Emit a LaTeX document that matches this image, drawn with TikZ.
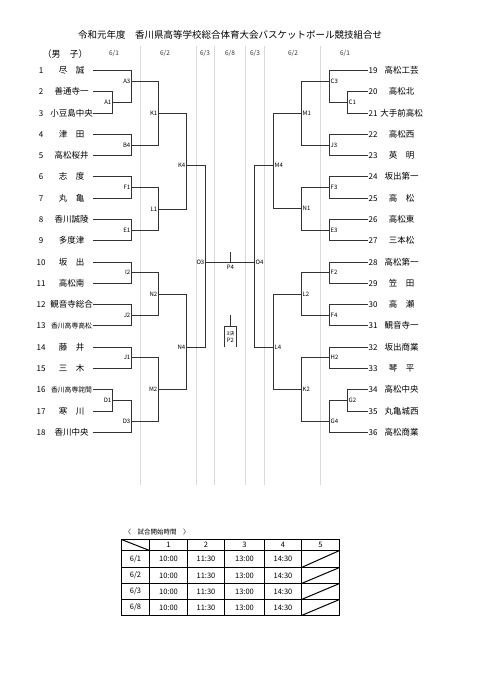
\documentclass[tikz,border=0pt]{standalone}
\usepackage{fontspec}
\setmainfont{Noto Sans CJK JP}
\newcommand{\smallname}[1]{{\fontsize{6.8}{7}\selectfont #1}}

\begin{document}
\begin{tikzpicture}[x=1pt, y=-1pt,
    bline/.style={line width=1.5pt, black!80},
    dayline/.style={line width=1.3pt, black!15},
    day/.style={font=\fontsize{6.5}{7}\selectfont, text=black!80},
    num/.style={font=\fontsize{8}{9}\selectfont},
    team/.style={font=\fontsize{8.5}{9}\selectfont},
    mL/.style={font=\fontsize{6}{6}\selectfont, inner sep=1pt, anchor=east},
    mR/.style={font=\fontsize{6}{6}\selectfont, inner sep=1pt, anchor=west},
    cell/.style={font=\fontsize{7.5}{8}\selectfont},
    grid/.style={line width=1pt}
  ]
  \useasboundingbox (0,0) rectangle (481,680);

  % Title and day columns
  \node[font=\fontsize{9.5}{10}\selectfont] (title) at (230,35) {令和元年度　香川県高等学校総合体育大会バスケットボール競技組合せ};
  \node[font=\fontsize{9}{10}\selectfont] (boys) at (65,54) {（男　子）};
  \foreach \x in {140.5,196.5,214.5,245.5,264.5,320.5}
    \draw[dayline] (\x,46) -- (\x,485);
  \foreach \d/\x [count=\k] in {1/114, 2/165, 3/205, 8/230, 3/255, 2/293, 1/345}
    \node[day] (day\k) at (\x,54) {6/\d};

  % Left teams 1-18
  \foreach \name [count=\i] in {尽　誠, 善通寺一, 小豆島中央, 津　田, 高松桜井, 志　度, 丸　亀, 香川誠陵, 多度津, 坂　出, 高松南, 観音寺総合, \smallname{香川高専高松}, 藤　井, 三　木, \smallname{香川高専詫間}, 寒　川, 香川中央}{
    \pgfmathsetmacro{\ty}{round(70+(\i-1)*21.29)+0.5}
    \node[num] (n\i) at (41,\ty) {\i};
    \node[team] (t\i) at (71.5,\ty) {\name};
    \coordinate (e\i) at (93,\ty);
  }

  % Right teams 19-36
  \foreach \name [count=\i from 19] in {高松工芸, 高松北, 大手前高松, 高松西, 英　明, 坂出第一, 高　松, 高松東, 三本松, 高松第一, 笠　田, 高　瀬, 観音寺一, 坂出商業, 琴　平, 高松中央, 丸亀城西, 高松商業}{
    \pgfmathsetmacro{\ty}{round(70+(\i-19)*21.29)+0.5}
    \node[num] (n\i) at (373,\ty) {\i};
    \node[team] (t\i) at (401.5,\ty) {\name};
    \coordinate (e\i) at (368,\ty);
  }

  % Left bracket
  \foreach \m/\x/\y in {A1/112.5/102.5, A3/131.5/81.5, B4/131.5/145.5, F1/131.5/187.5, E1/131.5/230.5, I2/131.5/272.5, J2/131.5/315.5, J1/131.5/357.5, D1/112.5/400.5, D3/131.5/421.5, K1/158.5/113.5, L1/158.5/209.5, N2/158.5/294.5, M2/158.5/389.5, K4/186.5/165.5, N4/186.5/347.5, O3/205.5/262.5}
    \node[mL] (\m) at (\x,\y) {\m};
  \foreach \a/\m in {e2/A1, e3/A1, e1/A3, A1.east/A3, e4/B4, e5/B4, e6/F1, e7/F1, e8/E1, e9/E1, e10/I2, e11/I2, e12/J2, e13/J2, e14/J1, e15/J1, e16/D1, e17/D1, D1.east/D3, e18/D3, A3.east/K1, B4.east/K1, F1.east/L1, E1.east/L1, I2.east/N2, J2.east/N2, J1.east/M2, D3.east/M2, K1.east/K4, L1.east/K4, N2.east/N4, M2.east/N4, K4.east/O3, N4.east/O3}
    \draw[bline] (\a) -| (\m.east);

  % Right bracket
  \foreach \m/\x/\y in {C1/347.5/102.5, C3/329.5/81.5, J3/329.5/145.5, F3/329.5/187.5, E3/329.5/230.5, F2/329.5/272.5, F4/329.5/315.5, H2/329.5/357.5, G2/347.5/400.5, G4/329.5/421.5, M1/301.5/113.5, N1/301.5/208.5, L2/301.5/294.5, K2/301.5/389.5, M4/273.5/165.5, L4/273.5/347.5, O4/254.5/262.5}
    \node[mR] (\m) at (\x,\y) {\m};
  \foreach \a/\m in {e20/C1, e21/C1, e19/C3, C1.west/C3, e22/J3, e23/J3, e24/F3, e25/F3, e26/E3, e27/E3, e28/F2, e29/F2, e30/F4, e31/F4, e32/H2, e33/H2, e34/G2, e35/G2, G2.west/G4, e36/G4, C3.west/M1, J3.west/M1, F3.west/N1, E3.west/N1, F2.west/L2, F4.west/L2, H2.west/K2, G4.west/K2, M1.west/M4, N1.west/M4, L2.west/L4, K2.west/L4, M4.west/O4, L4.west/O4}
    \draw[bline] (\a) -| (\m.west);

  % Final and third place
  \draw[bline] (O3.east) -- (O4.west);
  \coordinate (p4top) at (230.5,251.5);
  \draw[bline] (p4top) -- (p4top |- O3.east);
  \node[font=\fontsize{6}{6}\selectfont, anchor=north, inner sep=1pt] (P4) at (230.5,263.5) {P4};
  \coordinate (p2top) at (230.5,315);
  \node[font=\fontsize{5}{6.5}\selectfont, align=center, inner sep=0pt, minimum width=11pt, minimum height=20pt] (third) at (230.5,337) {3決\\[1pt]{\fontsize{6}{6}\selectfont P2}};
  \draw[bline, line width=1.2pt] (third.south west) |- (third.north) -| (third.south east);
  \draw[bline] (p2top) -- (third.north);

  % Start times
  \node[font=\fontsize{6.5}{7}\selectfont, anchor=west] (times) at (121,531.7) {〈　試合開始時間　〉};
  \draw[grid] (121.5,539.5) rectangle (339.5,615.5);
  \foreach \x in {149.5,187.5,224.5,264.5,301.5}
    \draw[grid] (\x,539.5) -- (\x,615.5);
  \foreach \y in {550.5,567.5,583.5,599.5}
    \draw[grid] (121.5,\y) -- (339.5,\y);
  \draw[grid] (121.5,539.5) -- (149.5,550.5);
  \foreach \y/\yy in {550.5/567.5, 567.5/583.5, 583.5/599.5, 599.5/615.5}
    \draw[grid] (301.5,\yy) -- (339.5,\y);
  \foreach \t/\xc in {1/168.5, 2/206, 3/244.5, 4/283, 5/320.5}
    \node[cell] (h\t) at (\xc,545) {\t};
  \node[cell] (d1) at (135.5,559) {6/1};
  \node[cell] (d2) at (135.5,575.5) {6/2};
  \node[cell] (d3) at (135.5,591.5) {6/3};
  \node[cell] (d4) at (135.5,607.5) {6/8};
  \foreach \yc [count=\r] in {559,575.5,591.5,607.5}
    \foreach \t/\xc [count=\c] in {10:00/168.5, 11:30/206, 13:00/244.5, 14:30/283}
      \node[cell] (c\r\c) at (\xc,\yc) {\t};

\end{tikzpicture}
\end{document}
